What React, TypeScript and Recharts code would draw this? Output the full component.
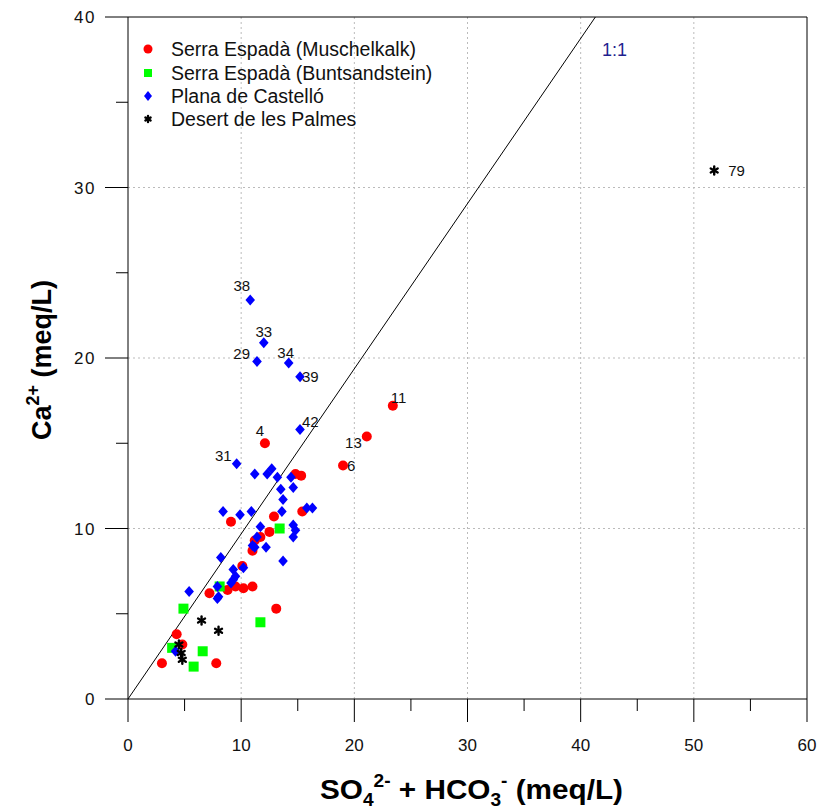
import React from "react";
import {
  ScatterChart,
  Scatter,
  XAxis,
  YAxis,
  CartesianGrid,
  ReferenceLine,
  ReferenceDot,
  Legend,
} from "recharts";

type Pt = [number, number, string?];

// Serra Espadà (Muschelkalk)
const muschelkalk: Pt[] = [
  [12.1, 15.0, "4"], [23.4, 17.2, "11"], [21.1, 15.4, "13"], [19.0, 13.7, "6"],
  [14.8, 13.2], [15.3, 13.1], [15.4, 11.0], [12.9, 10.7], [9.1, 10.4],
  [12.5, 9.8], [11.7, 9.5], [11.2, 9.3], [11.0, 8.7], [10.1, 7.8],
  [9.5, 6.6], [8.8, 6.4], [10.2, 6.5], [11.0, 6.6], [7.2, 6.2],
  [13.1, 5.3], [4.3, 3.8], [4.8, 3.2], [3.0, 2.1], [7.8, 2.1],
];

// Serra Espadà (Buntsandstein)
const buntsandstein: Pt[] = [
  [13.4, 10.0], [8.1, 6.6], [4.9, 5.3], [11.7, 4.5], [3.9, 3.0], [6.6, 2.8], [5.8, 1.9],
];

// Plana de Castelló
const planaCastello: Pt[] = [
  [10.8, 23.4, "38"], [12.0, 20.9, "33"], [11.4, 19.8, "29"], [14.2, 19.7, "34"],
  [15.2, 18.9, "39"], [15.2, 15.8, "42"], [9.6, 13.8, "31"],
  [11.2, 13.2], [12.3, 13.2], [12.7, 13.5], [13.2, 13.0], [14.4, 13.0],
  [13.5, 12.3], [14.6, 12.4], [13.7, 11.7], [13.6, 11.0], [15.8, 11.2], [16.3, 11.2],
  [8.4, 11.0], [9.9, 10.8], [10.9, 11.0], [11.7, 10.1], [14.6, 10.2], [14.8, 9.9],
  [14.6, 9.5], [11.4, 9.5], [11.0, 9.0], [11.2, 8.9], [12.2, 8.9], [13.7, 8.1],
  [8.2, 8.3], [9.3, 7.6], [10.2, 7.7], [9.5, 7.2], [9.3, 7.0], [9.1, 6.8],
  [7.9, 6.6], [5.4, 6.3], [8.0, 6.0], [7.9, 5.9], [4.2, 2.8],
];

// Desert de les Palmes
const desertPalmes: Pt[] = [
  [6.5, 4.6], [8.0, 4.0], [4.5, 3.2], [4.7, 2.7], [4.8, 2.3], [51.8, 31.0, "79"],
];

const seriesNames = [
  "Serra Espadà (Muschelkalk)",
  "Serra Espadà (Buntsandstein)",
  "Plana de Castelló",
  "Desert de les Palmes",
];

const xTicks = [0, 5, 10, 15, 20, 25, 30, 35, 40, 45, 50, 55, 60];
const yTicks = [0, 5, 10, 15, 20, 25, 30, 35, 40];
const xGrid = [10, 20, 30, 40, 50];
const yGrid = [10, 20, 30];
const oneToOne = [{ x: 0, y: 0 }, { x: 41.3, y: 40 }];

const FONT = "'Liberation Sans', Arial, Helvetica, sans-serif";

const toRows = (pts: Pt[]) => pts.map(([x, y, label]) => ({ x, y, label: label ?? "" }));

// where each point label sits relative to its marker
const labelPlace: Record<string, [string, number, number]> = {
  "38": ["end", 0, -14],
  "33": ["middle", 0, -11],
  "29": ["end", -7, -7],
  "34": ["middle", -3, -10],
  "39": ["start", 2, 0],
  "42": ["start", 2, -8],
  "4": ["middle", -5, -12],
  "31": ["end", -5, -8],
  "13": ["end", -5, 7],
  "6": ["start", 4, 1],
  "11": ["start", -2, -8],
  "79": ["start", 14, 1],
};

function PointLabel({ cx, cy, label }: { cx: number; cy: number; label: string }) {
  if (!label) return null;
  const [anchor, dx, dy] = labelPlace[label] || ["start", 6, -6];
  return (
    <text x={cx + dx} y={cy + dy + 5} textAnchor={anchor as any} fontSize={15} fontFamily={FONT} fill="#111">
      {label}
    </text>
  );
}

const CircleShape = (p: any) => (
  <g>
    <circle cx={p.cx} cy={p.cy} r={5} fill="#ff0000" />
    <PointLabel cx={p.cx} cy={p.cy} label={p.payload?.label} />
  </g>
);

const SquareShape = (p: any) => (
  <g>
    <rect x={p.cx - 5} y={p.cy - 5} width={10} height={10} fill="#00ff00" />
    <PointLabel cx={p.cx} cy={p.cy} label={p.payload?.label} />
  </g>
);

const DiamondShape = (p: any) => (
  <g>
    <path
      d={`M${p.cx},${p.cy - 5.5}L${p.cx + 4.8},${p.cy}L${p.cx},${p.cy + 5.5}L${p.cx - 4.8},${p.cy}Z`}
      fill="#0000ff"
    />
    <PointLabel cx={p.cx} cy={p.cy} label={p.payload?.label} />
  </g>
);

function Asterisk({ cx, cy, s }: { cx: number; cy: number; s: number }) {
  const a = s * 0.866;
  const b = s * 0.5;
  return (
    <g stroke="#000" strokeWidth={2.4} strokeLinecap="round">
      <line x1={cx} y1={cy - s} x2={cx} y2={cy + s} />
      <line x1={cx - a} y1={cy - b} x2={cx + a} y2={cy + b} />
      <line x1={cx - a} y1={cy + b} x2={cx + a} y2={cy - b} />
    </g>
  );
}

const StarShape = (p: any) => (
  <g>
    <Asterisk cx={p.cx} cy={p.cy} s={4} />
    <PointLabel cx={p.cx} cy={p.cy} label={p.payload?.label} />
  </g>
);

function XTick(props: any) {
  const { x, y, payload } = props;
  const major = payload.value % 10 === 0;
  return (
    <g>
      <line x1={x} x2={x} y1={y} y2={y + (major ? 23 : 12)} stroke="#000" />
      {major && (
        <text x={x} y={y + 52} textAnchor="middle" fontSize={17} fontFamily={FONT} fill="#111">
          {payload.value}
        </text>
      )}
    </g>
  );
}

function YTick(props: any) {
  const { x, y, payload } = props;
  const major = payload.value % 10 === 0;
  return (
    <g>
      <line x1={x - (major ? 23 : 12)} x2={x} y1={y} y2={y} stroke="#000" />
      {major && (
        <text x={x - 32} y={y + 6} textAnchor="end" fontSize={17} letterSpacing={1.5} fontFamily={FONT} fill="#111">
          {payload.value}
        </text>
      )}
    </g>
  );
}

function LegendBox() {
  const rowY = [11, 35, 58, 81];
  return (
    <svg width={320} height={100} style={{ overflow: "visible" }}>
      <circle cx={10} cy={rowY[0]} r={4.5} fill="#ff0000" />
      <rect x={6} y={rowY[1] - 4} width={8} height={8} fill="#00ff00" />
      <path d={`M10,${rowY[2] - 5}L14,${rowY[2]}L10,${rowY[2] + 5}L6,${rowY[2]}Z`} fill="#0000ff" />
      <Asterisk cx={10} cy={rowY[3]} s={3} />
      {seriesNames.map((n, i) => (
        <text key={n} x={33} y={rowY[i] + 6.5} fontSize={19.5} fontFamily={FONT} fill="#111">
          {n}
        </text>
      ))}
    </svg>
  );
}

export default function App() {
  return (
    <div style={{ position: "absolute", left: 0, top: 0, background: "#fff" }}>
      <ScatterChart width={822} height={811} margin={{ top: 17, right: 15, bottom: 82, left: 68 }}>
        <CartesianGrid
          horizontalValues={yGrid}
          verticalValues={xGrid}
          stroke="#bbb"
          strokeDasharray="2 3"
        />
        <XAxis
          type="number"
          dataKey="x"
          domain={[0, 60]}
          ticks={xTicks}
          interval={0}
          height={30}
          tickSize={0}
          tickMargin={0}
          tickLine={false}
          tick={<XTick />}
          axisLine={{ stroke: "#000" }}
          label={{
            content: () => (
              <text
                x={320}
                y={799}
                textLength={303}
                lengthAdjust="spacingAndGlyphs"
                fontSize={28}
                fontWeight="bold"
                fontFamily={FONT}
                fill="#000"
              >
                SO
                <tspan fontSize={18} dy={7}>4</tspan>
                <tspan fontSize={18} dy={-19}>2-</tspan>
                <tspan dy={12}> + HCO</tspan>
                <tspan fontSize={18} dy={7}>3</tspan>
                <tspan fontSize={18} dy={-19}>-</tspan>
                <tspan dy={12}> (meq/L)</tspan>
              </text>
            ),
          }}
        />
        <YAxis
          type="number"
          dataKey="y"
          domain={[0, 40]}
          ticks={yTicks}
          interval={0}
          width={60}
          tickSize={0}
          tickMargin={0}
          tickLine={false}
          tick={<YTick />}
          axisLine={{ stroke: "#000" }}
          label={{
            content: () => (
              <text
                x={51}
                y={360}
                transform="rotate(-90 51 360)"
                textAnchor="middle"
                fontSize={27}
                fontWeight="bold"
                fontFamily={FONT}
                fill="#000"
              >
                Ca
                <tspan fontSize={18} dy={-12}>2+</tspan>
                <tspan dy={12}> (meq/L)</tspan>
              </text>
            ),
          }}
        />
        <ReferenceLine y={40} stroke="#000" />
        <ReferenceLine x={60} stroke="#000" />
        <ReferenceLine segment={oneToOne} stroke="#000" strokeWidth={1} />
        <ReferenceDot
          x={43}
          y={38.1}
          r={0}
          fill="none"
          stroke="none"
          label={{ value: "1:1", position: "center", fontSize: 18, fill: "#1f1f8f", fontFamily: FONT }}
        />
        <Legend
          verticalAlign="middle"
          align="center"
          layout="horizontal"
          wrapperStyle={{ position: "absolute", left: 138, top: 38, width: 320, height: 100 }}
          content={() => <LegendBox />}
        />
        <Scatter name={seriesNames[0]} data={toRows(muschelkalk)} shape={CircleShape} isAnimationActive={false} />
        <Scatter name={seriesNames[1]} data={toRows(buntsandstein)} shape={SquareShape} isAnimationActive={false} />
        <Scatter name={seriesNames[2]} data={toRows(planaCastello)} shape={DiamondShape} isAnimationActive={false} />
        <Scatter name={seriesNames[3]} data={toRows(desertPalmes)} shape={StarShape} isAnimationActive={false} />
      </ScatterChart>
    </div>
  );
}
